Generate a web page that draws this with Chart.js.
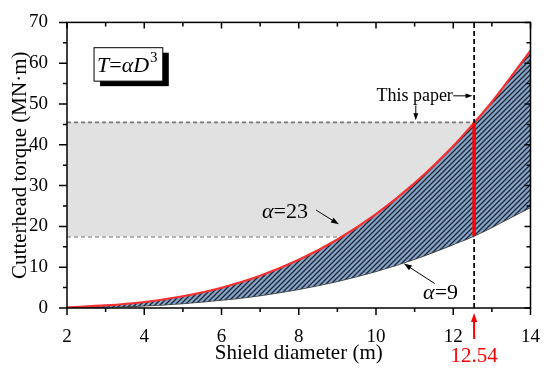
<!DOCTYPE html>
<html>
<head>
<meta charset="utf-8">
<script src="https://cdn.jsdelivr.net/npm/chart.js@4/dist/chart.umd.min.js"></script>
<style>
  body { margin: 0; background: #fff; }
  #wrap { width: 550px; height: 371px; }
</style>
</head>
<body>
<div id="wrap"><canvas id="torqueChart" width="550" height="371"></canvas></div>
<script>
// shield diameters (m)
let diam = [2, 3, 4, 5, 6, 7, 8, 9, 10, 11, 12, 12.54, 13, 14];
// torque for alpha = 23 (MN·m)
let torqueHigh = [0.18, 0.62, 1.47, 2.88, 4.97, 7.89, 11.8, 16.8, 23.0, 30.6, 39.7, 45.4, 50.5, 63.1];
// torque for alpha = 9 (MN·m)
let torqueLow = [0.07, 0.24, 0.58, 1.13, 1.94, 3.09, 4.61, 6.56, 9.0, 12.0, 15.6, 17.7, 19.8, 24.7];
// "this paper" range
let paperD = 12.54;
let bandTop = 45.5, bandBottom = 17.5;
let xTicks = [2, 4, 6, 8, 10, 12, 14];
let yTicks = [0, 10, 20, 30, 40, 50, 60, 70];

const serif = "'Liberation Serif', 'Times New Roman', serif";

function toPoints(xs, ys) {
    let pts = [];
    for (let i = 0; i < xs.length; i++) {
        pts.push({ x: xs[i], y: ys[i] });
    }
    return pts;
}

// hatch pattern for the area between the curves
function makeHatch() {
    let c = document.createElement('canvas');
    c.width = 5; c.height = 5;
    let g = c.getContext('2d');
    g.fillStyle = '#87a5c8';
    g.fillRect(0, 0, 5, 5);
    g.strokeStyle = '#1c2632';
    g.lineWidth = 1.3;
    g.beginPath();
    g.moveTo(-1, 6); g.lineTo(6, -1);
    g.moveTo(-1, 1); g.lineTo(1, -1);
    g.moveTo(4, 6); g.lineTo(6, 4);
    g.stroke();
    return document.getElementById('torqueChart').getContext('2d').createPattern(c, 'repeat');
}

function arrow(ctx, x1, y1, x2, y2, color, head) {
    let a = Math.atan2(y2 - y1, x2 - x1);
    ctx.strokeStyle = color;
    ctx.fillStyle = color;
    ctx.lineWidth = 1;
    ctx.beginPath();
    ctx.moveTo(x1, y1);
    ctx.lineTo(x2 - Math.cos(a) * head * 0.8, y2 - Math.sin(a) * head * 0.8);
    ctx.stroke();
    ctx.beginPath();
    ctx.moveTo(x2, y2);
    ctx.lineTo(x2 - head * Math.cos(a) + head * 0.35 * Math.sin(a), y2 - head * Math.sin(a) - head * 0.35 * Math.cos(a));
    ctx.lineTo(x2 - head * Math.cos(a) - head * 0.35 * Math.sin(a), y2 - head * Math.sin(a) + head * 0.35 * Math.cos(a));
    ctx.closePath();
    ctx.fill();
}

const framePlugin = {
    id: 'frame',
    afterDraw(chart) {
        const ctx = chart.ctx;
        const xs = chart.scales.x, ys = chart.scales.y;
        const a = chart.chartArea;
        const px = v => xs.getPixelForValue(v);
        const py = v => ys.getPixelForValue(v);
        ctx.save();
        ctx.strokeStyle = '#000';
        ctx.lineWidth = 1.5;
        ctx.strokeRect(a.left, a.top, a.right - a.left, a.bottom - a.top);
        ctx.beginPath();
        for (let v = 2; v <= 14; v++) {
            let major = v % 2 === 0;
            let x = px(v);
            ctx.moveTo(x, a.bottom); ctx.lineTo(x, a.bottom + (major ? 7 : 4));
            ctx.moveTo(x, a.top); ctx.lineTo(x, a.top + (major ? 6 : 4));
        }
        for (let v = 0; v <= 70; v += 5) {
            let major = v % 10 === 0;
            let y = py(v);
            ctx.moveTo(a.left, y); ctx.lineTo(a.left - (major ? 8 : 4), y);
            ctx.moveTo(a.right, y); ctx.lineTo(a.right - (major ? 6 : 4), y);
        }
        ctx.stroke();

        // formula box with shadow
        let bx1 = px(2.70), bx2 = px(4.48), by1 = py(63.8), by2 = py(55.6);
        ctx.fillStyle = '#000';
        ctx.fillRect(bx1 + 6, by1 + 5, bx2 - bx1, by2 - by1);
        ctx.fillStyle = '#fff';
        ctx.fillRect(bx1, by1, bx2 - bx1, by2 - by1);
        ctx.lineWidth = 1;
        ctx.strokeRect(bx1, by1, bx2 - bx1, by2 - by1);
        ctx.fillStyle = '#000';
        ctx.textBaseline = 'alphabetic';
        ctx.textAlign = 'left';
        let tx = bx1 + 3, ty = by2 - 9;
        ctx.font = 'italic 22px ' + serif;
        ctx.fillText('T', tx, ty);
        tx += ctx.measureText('T').width;
        ctx.font = '22px ' + serif;
        ctx.fillText('=', tx, ty);
        tx += ctx.measureText('=').width;
        ctx.font = 'italic 22px ' + serif;
        ctx.fillText('αD', tx, ty);
        tx += ctx.measureText('αD').width;
        ctx.font = '15px ' + serif;
        ctx.fillText('3', tx + 1, ty - 10);

        // "This paper" label and arrows
        ctx.font = '18px ' + serif;
        ctx.textAlign = 'center';
        ctx.textBaseline = 'middle';
        ctx.fillText('This paper', px(11.0), py(52.0));
        arrow(ctx, px(12.0), py(52.0), px(12.5), py(52.0), '#000', 7);
        arrow(ctx, px(11.03), py(49.6), px(11.03), py(46.0), '#000', 7);

        // alpha labels
        ctx.textAlign = 'left';
        let ax = px(7.05), ay = py(23.5);
        ctx.font = 'italic 22px ' + serif;
        ctx.fillText('α', ax, ay);
        let w = ctx.measureText('α').width;
        ctx.font = '22px ' + serif;
        ctx.fillText('=23', ax + w, ay);
        arrow(ctx, px(8.45), py(24.0), px(9.04), py(20.5), '#000', 8);

        ax = px(11.22); ay = py(3.6);
        ctx.font = 'italic 22px ' + serif;
        ctx.fillText('α', ax, ay);
        w = ctx.measureText('α').width;
        ctx.font = '22px ' + serif;
        ctx.fillText('=9', ax + w, ay);
        arrow(ctx, px(11.52), py(6.0), px(10.72), py(10.9), '#000', 8);

        // red marker below the axis
        ctx.fillStyle = '#ff0000';
        ctx.font = '21px ' + serif;
        ctx.textAlign = 'center';
        ctx.fillText(String(paperD), px(paperD), 356);
        arrow(ctx, px(paperD), 339, px(paperD), 313, '#ff0000', 9);
        ctx.lineWidth = 2;
        ctx.beginPath();
        ctx.moveTo(px(paperD), 339); ctx.lineTo(px(paperD), 320);
        ctx.stroke();
        ctx.restore();
    }
};

const dataSet = {
    datasets: [{
        label: 'alpha=23',
        data: toPoints(diam, torqueHigh),
        borderColor: '#f52f2f',
        borderWidth: 2.2,
        backgroundColor: makeHatch(),
        fill: 1,
        pointRadius: 0,
        cubicInterpolationMode: 'monotone',
        order: 1
    }, {
        label: 'alpha=9',
        data: toPoints(diam, torqueLow),
        borderColor: '#3c3c3c',
        borderWidth: 1.5,
        fill: false,
        pointRadius: 0,
        cubicInterpolationMode: 'monotone',
        order: 2
    }, {
        label: 'band top',
        data: [{ x: 2, y: bandTop }, { x: paperD, y: bandTop }],
        borderColor: '#777',
        borderWidth: 1.6,
        borderDash: [4, 3],
        backgroundColor: '#e1e1e1',
        fill: 3,
        pointRadius: 0,
        order: 5
    }, {
        label: 'band bottom',
        data: [{ x: 2, y: bandBottom }, { x: paperD, y: bandBottom }],
        borderColor: '#777',
        borderWidth: 1.6,
        borderDash: [4, 3],
        fill: false,
        pointRadius: 0,
        order: 6
    }, {
        label: 'this paper',
        data: [{ x: paperD, y: torqueLow[11] }, { x: paperD, y: torqueHigh[11] }],
        borderColor: '#ff0000',
        borderWidth: 3.5,
        fill: false,
        pointRadius: 0,
        order: 0
    }, {
        label: 'D line',
        data: [{ x: paperD, y: 0 }, { x: paperD, y: 70 }],
        borderColor: '#000',
        borderWidth: 1.7,
        borderDash: [5, 3],
        fill: false,
        pointRadius: 0,
        order: 0.5
    }]
};

const configLine = {
    type: 'line',
    data: dataSet,
    options: {
        responsive: false,
        animation: false,
        layout: { padding: { top: 16, right: 19, left: 0, bottom: 0 } },
        plugins: {
            legend: { display: false },
            tooltip: { enabled: false }
        },
        scales: {
            x: {
                type: 'linear',
                min: 2,
                max: 14,
                afterFit: s => { s.height = 63; },
                afterBuildTicks: s => { s.ticks = xTicks.map(v => ({ value: v })); },
                grid: { display: false },
                border: { display: false },
                ticks: { color: '#000', padding: 10, maxRotation: 0, font: { family: serif, size: 19 } },
                title: { display: true, text: 'Shield diameter (m)', color: '#000', padding: { top: 0, bottom: 5 }, font: { family: serif, size: 21 } }
            },
            y: {
                min: 0,
                max: 70,
                afterFit: s => { s.width = 67; },
                afterBuildTicks: s => { s.ticks = yTicks.map(v => ({ value: v })); },
                grid: { display: false },
                border: { display: false },
                ticks: { color: '#000', padding: 11, font: { family: serif, size: 19 } },
                title: { display: true, text: 'Cutterhead torque (MN·m)', color: '#000', padding: { top: 8, bottom: 0 }, font: { family: serif, size: 21 } }
            }
        }
    },
    plugins: [framePlugin]
};

let torqueCanvas = document.getElementById('torqueChart');

const torqueChart = new Chart(torqueCanvas, configLine);
</script>
</body>
</html>
